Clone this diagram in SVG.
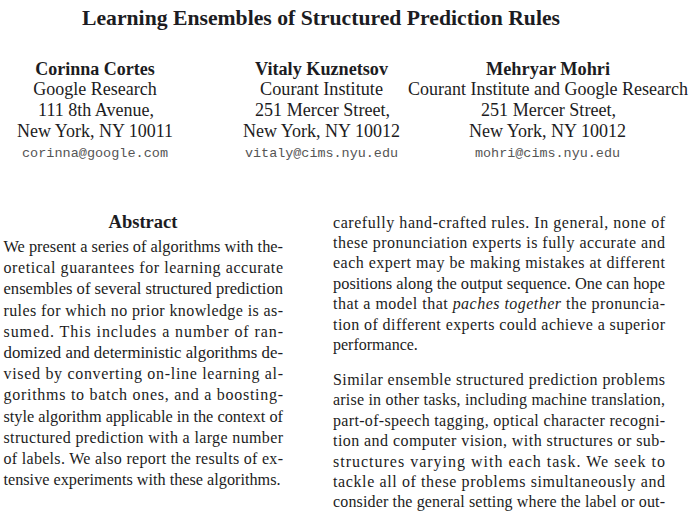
<svg xmlns="http://www.w3.org/2000/svg" width="693" height="511" viewBox="0 0 693 511">
<style>
text{font-family:"Liberation Serif","Times New Roman",serif;fill:#1c1c22}
.title{font-size:22px;font-weight:bold}
.name{font-size:18px;font-weight:bold;text-anchor:middle}
.aff{font-size:18px;text-anchor:middle}
.mail{font-family:"Liberation Mono","Courier New",monospace;font-size:13.5px;fill:#555;text-anchor:middle}
.head{font-size:18.5px;font-weight:bold;text-anchor:middle}
.body{font-size:16px}
</style>
<rect width="693" height="511" fill="#ffffff"/>
<g id="title">
<text class="title" x="82" y="25" textLength="478" lengthAdjust="spacingAndGlyphs">Learning Ensembles of Structured Prediction Rules</text>
</g>
<g id="author-cortes">
<text class="name" x="95" y="75">Corinna Cortes</text>
<text class="aff" x="95" y="95">Google Research</text>
<text class="aff" x="96" y="115.5">111 8th Avenue,</text>
<text class="aff" x="95" y="136.5" textLength="156" lengthAdjust="spacingAndGlyphs">New York, NY 10011</text>
<text class="mail" x="95" y="157" textLength="146" lengthAdjust="spacingAndGlyphs">corinna@google.com</text>
</g>
<g id="author-kuznetsov">
<text class="name" x="321.5" y="75" textLength="133" lengthAdjust="spacingAndGlyphs">Vitaly Kuznetsov</text>
<text class="aff" x="321.5" y="95" textLength="123" lengthAdjust="spacingAndGlyphs">Courant Institute</text>
<text class="aff" x="322.5" y="115.5" textLength="135" lengthAdjust="spacingAndGlyphs">251 Mercer Street,</text>
<text class="aff" x="321.5" y="136.5" textLength="157" lengthAdjust="spacingAndGlyphs">New York, NY 10012</text>
<text class="mail" x="321.5" y="157" textLength="153" lengthAdjust="spacingAndGlyphs">vitaly@cims.nyu.edu</text>
</g>
<g id="author-mohri">
<text class="name" x="548" y="75" textLength="124" lengthAdjust="spacingAndGlyphs">Mehryar Mohri</text>
<text class="aff" x="548" y="95" textLength="280" lengthAdjust="spacingAndGlyphs">Courant Institute and Google Research</text>
<text class="aff" x="548.5" y="115.5" textLength="135" lengthAdjust="spacingAndGlyphs">251 Mercer Street,</text>
<text class="aff" x="547.5" y="136.5" textLength="157" lengthAdjust="spacingAndGlyphs">New York, NY 10012</text>
<text class="mail" x="547.5" y="157" textLength="145" lengthAdjust="spacingAndGlyphs">mohri@cims.nyu.edu</text>
</g>
<g id="abstract">
<text class="head" x="143" y="228">Abstract</text>
<text class="body" x="3.5" y="252" textLength="279.5" lengthAdjust="spacingAndGlyphs">We present a series of algorithms with the-</text>
<text class="body" x="3.5" y="273.2" textLength="279.5">oretical guarantees for learning accurate</text>
<text class="body" x="3.5" y="294.4" textLength="279.5" lengthAdjust="spacingAndGlyphs">ensembles of several structured prediction</text>
<text class="body" x="3.5" y="315.6" textLength="279.5">rules for which no prior knowledge is as-</text>
<text class="body" x="3.5" y="336.8" textLength="279.5">sumed.  This includes a number of ran-</text>
<text class="body" x="3.5" y="358" textLength="279.5" lengthAdjust="spacingAndGlyphs">domized and deterministic algorithms de-</text>
<text class="body" x="3.5" y="379.2" textLength="279.5">vised by converting on-line learning al-</text>
<text class="body" x="3.5" y="400.4" textLength="279.5">gorithms to batch ones, and a boosting-</text>
<text class="body" x="3.5" y="421.6" textLength="279.5" lengthAdjust="spacingAndGlyphs">style algorithm applicable in the context of</text>
<text class="body" x="3.5" y="442.8" textLength="279.5">structured prediction with a large number</text>
<text class="body" x="3.5" y="464" textLength="279.5">of labels. We also report the results of ex-</text>
<text class="body" x="3.5" y="485.2" textLength="277" lengthAdjust="spacingAndGlyphs">tensive experiments with these algorithms.</text>
</g>
<g id="intro">
<text class="body" x="333" y="227.5" textLength="332">carefully hand-crafted rules.  In general, none of</text>
<text class="body" x="333" y="247.9" textLength="332">these pronunciation experts is fully accurate and</text>
<text class="body" x="333" y="268.3" textLength="332">each expert may be making mistakes at different</text>
<text class="body" x="333" y="288.7" textLength="332" lengthAdjust="spacingAndGlyphs">positions along the output sequence. One can hope</text>
<text class="body" x="333" y="309.1" textLength="332">that a model that <tspan font-style="italic">paches together</tspan> the pronuncia-</text>
<text class="body" x="333" y="329.5" textLength="332">tion of different experts could achieve a superior</text>
<text class="body" x="333" y="349.9">performance.</text>
<text class="body" x="333" y="385" textLength="332">Similar ensemble structured prediction problems</text>
<text class="body" x="333" y="405.4" textLength="332">arise in other tasks, including machine translation,</text>
<text class="body" x="333" y="425.8" textLength="332">part-of-speech tagging, optical character recogni-</text>
<text class="body" x="333" y="446.2" textLength="332">tion and computer vision, with structures or sub-</text>
<text class="body" x="333" y="466.6" textLength="332">structures varying with each task.  We seek to</text>
<text class="body" x="333" y="487" textLength="332">tackle all of these problems simultaneously and</text>
<text class="body" x="333" y="507.4" textLength="332">consider the general setting where the label or out-</text>
</g>
</svg>
